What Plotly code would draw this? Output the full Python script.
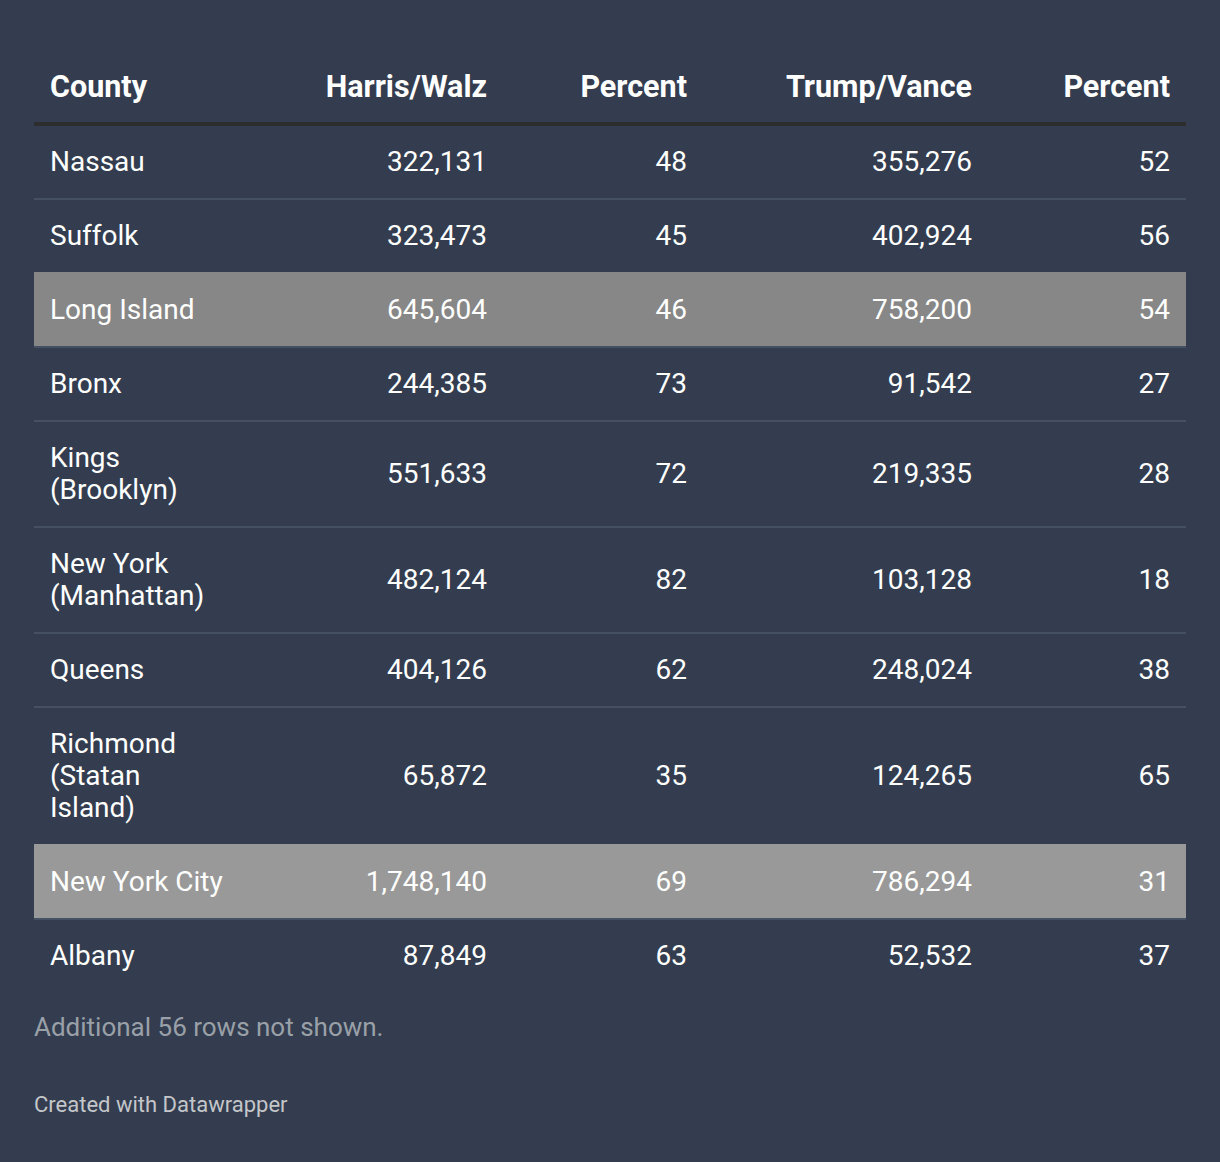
import plotly.graph_objects as go

# ---- data ----
counties = ["Nassau", "Suffolk", "Long Island", "Bronx", "Kings<br>(Brooklyn)",
            "New York<br>(Manhattan)", "Queens", "Richmond<br>(Statan<br>Island)",
            "New York City", "Albany"]
harris_votes = [322131, 323473, 645604, 244385, 551633, 482124, 404126, 65872, 1748140, 87849]
harris_pct = [48, 45, 46, 73, 72, 82, 62, 35, 69, 63]
trump_votes = [355276, 402924, 758200, 91542, 219335, 103128, 248024, 124265, 786294, 52532]
trump_pct = [52, 56, 54, 27, 28, 18, 38, 65, 31, 37]
highlight = {"Long Island": "#878787", "New York City": "#999999"}
headers = ["County", "Harris/Walz", "Percent", "Trump/Vance", "Percent"]
note_text = "Additional 56 rows not shown."
credit_text = "Created with Datawrapper"

# ---- layout constants ----
W, H = 1220, 1162
BG = "#333d4f"
SEP = "#465063"
HEAD_LINE = "#2d2d2d"
TXT = "#ffffff"
FONT = "Roboto"
FS = 28
HFS = 30.5
TABLE_L, TABLE_R = 34, 1186
col_x = [50, 487, 687, 972, 1170]
HEAD_Y = 89.5
head_line = (122, 126)
BASE_H, LINE_H, SEP_W = 72, 32, 2
TEXT_DY = 2.2

# compute row geometry from number of text lines
tops, bottoms, centers = [], [], []
y = head_line[1]
for c in counties:
    n = c.count("<br>") + 1
    h = BASE_H + LINE_H * (n - 1)
    tops.append(y)
    bottoms.append(y + h)
    centers.append(y + h / 2)
    y += h + SEP_W

shapes = []
shapes.append(dict(type="rect", xref="x", yref="y", x0=TABLE_L, x1=TABLE_R,
                   y0=head_line[0], y1=head_line[1], fillcolor=HEAD_LINE,
                   line=dict(width=0), layer="below"))
for i in range(len(counties) - 1):
    shapes.append(dict(type="rect", xref="x", yref="y", x0=TABLE_L, x1=TABLE_R,
                       y0=bottoms[i], y1=bottoms[i] + SEP_W, fillcolor=SEP,
                       line=dict(width=0), layer="below"))
for i, c in enumerate(counties):
    if c in highlight:
        shapes.append(dict(type="rect", xref="x", yref="y", x0=TABLE_L, x1=TABLE_R,
                           y0=tops[i] - SEP_W, y1=bottoms[i], fillcolor=highlight[c],
                           line=dict(width=0), layer="below"))

# county names: one text point per wrapped line, stacked at LINE_H spacing
name_x, name_y, name_t = [], [], []
for c, cy in zip(counties, centers):
    parts = c.split("<br>")
    n = len(parts)
    for k, p in enumerate(parts):
        name_x.append(col_x[0])
        name_y.append(cy + (k - (n - 1) / 2) * LINE_H + TEXT_DY)
        name_t.append(p)

fmt = lambda v: f"{v:,}"

fig = go.Figure()
fig.add_trace(go.Scatter(
    x=[col_x[0]], y=[HEAD_Y], mode="text", text=[headers[0]],
    textposition="middle right", hoverinfo="skip",
    textfont=dict(family=FONT, size=HFS, color=TXT, weight="bold")))
fig.add_trace(go.Scatter(
    x=col_x[1:], y=[HEAD_Y] * 4, mode="text", text=headers[1:],
    textposition="middle left", hoverinfo="skip",
    textfont=dict(family=FONT, size=HFS, color=TXT, weight="bold")))
fig.add_trace(go.Scatter(
    x=name_x, y=name_y, mode="text", text=name_t,
    textposition="middle right", hoverinfo="skip",
    textfont=dict(family=FONT, size=FS, color=TXT)))
for xi, vals in zip(col_x[1:], [harris_votes, harris_pct, trump_votes, trump_pct]):
    fig.add_trace(go.Scatter(
        x=[xi] * len(vals), y=[c + TEXT_DY for c in centers], mode="text",
        text=[fmt(v) for v in vals],
        textposition="middle left", hoverinfo="skip",
        textfont=dict(family=FONT, size=FS, color=TXT)))

fig.update_layout(
    width=W, height=H, margin=dict(l=0, r=0, t=0, b=0),
    paper_bgcolor=BG, plot_bgcolor=BG, showlegend=False,
    xaxis=dict(range=[0, W], visible=False, fixedrange=True),
    yaxis=dict(range=[H, 0], visible=False, fixedrange=True),
    shapes=shapes,
    annotations=[
        dict(text=note_text, x=32, y=1027, xref="x", yref="y", xanchor="left",
             yanchor="middle", showarrow=False,
             font=dict(family=FONT, size=26, color="#9aa0a8")),
        dict(text=credit_text, x=32, y=1104, xref="x", yref="y", xanchor="left",
             yanchor="middle", showarrow=False,
             font=dict(family=FONT, size=22, color="#c4c6ca")),
    ],
)

fig.write_html("out.html", config={"displayModeBar": False})
with open("out.html", encoding="utf-8") as f:
    html = f.read()
html = html.replace("<head>", "<head><style>html,body{margin:0;padding:0;overflow:hidden;}</style>", 1)
with open("out.html", "w", encoding="utf-8") as f:
    f.write(html)
